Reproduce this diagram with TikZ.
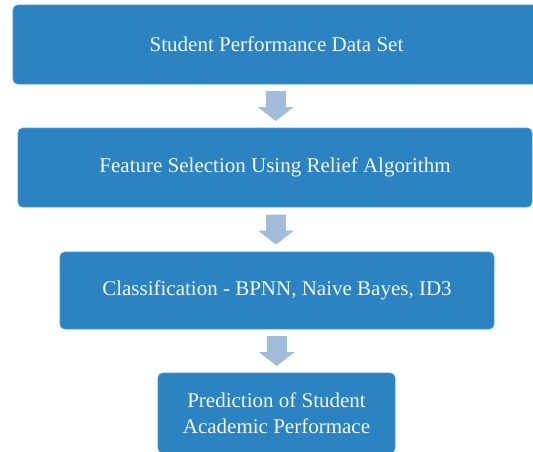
\documentclass[tikz,border=0pt]{standalone}
\usepackage{fontspec}
\setmainfont{Liberation Serif}
\usetikzlibrary{calc}
\definecolor{boxfill}{HTML}{2B83C1}
\definecolor{boxedge}{HTML}{4C97CC}
\definecolor{arrowcol}{HTML}{A2BDD9}
\definecolor{txt}{HTML}{F4F7FA}
\tikzset{
  stage/.style={draw=boxedge, line width=0.8pt, fill=boxfill, rounded corners=5pt,
    text=txt, font=\fontsize{21}{26}\selectfont, align=center, inner sep=0pt},
  downarr/.pic={\fill[arrowcol] (-10,-15) -- (10,-15) -- (10,1) -- (18,1) -- (0,15) -- (-18,1) -- (-10,1) -- cycle;}
}
\begin{document}
\begin{tikzpicture}[x=1pt,y=-1pt]
\useasboundingbox (0,0) rectangle (533,451);
\clip (0,0) rectangle (533,451);
\node[stage, minimum width=527pt, minimum height=79pt] (b1) at (276.5,44.5) {Student Performance Data Set};
\node[stage, minimum width=514pt, minimum height=79pt] (b2) at (275,167.5) {Feature Selection Using Relief Algorithm};
\node[stage, minimum width=434pt, minimum height=77pt] (b3) at (277,290.5) {Classification - BPNN, Naive Bayes, ID3};
\node[stage, minimum width=237pt, minimum height=80pt] (b4) at (276.5,413) {Prediction of Student\\Academic Performace};
\coordinate (m1) at ($(b1.south)!0.5!(b2.north)$);
\coordinate (m2) at ($(b2.south)!0.5!(b3.north)$);
\coordinate (m3) at ($(b3.south)!0.5!(b4.north)$);
\pic at (m1) {downarr};
\pic at (m2) {downarr};
\pic at (m3) {downarr};
\end{tikzpicture}
\end{document}
